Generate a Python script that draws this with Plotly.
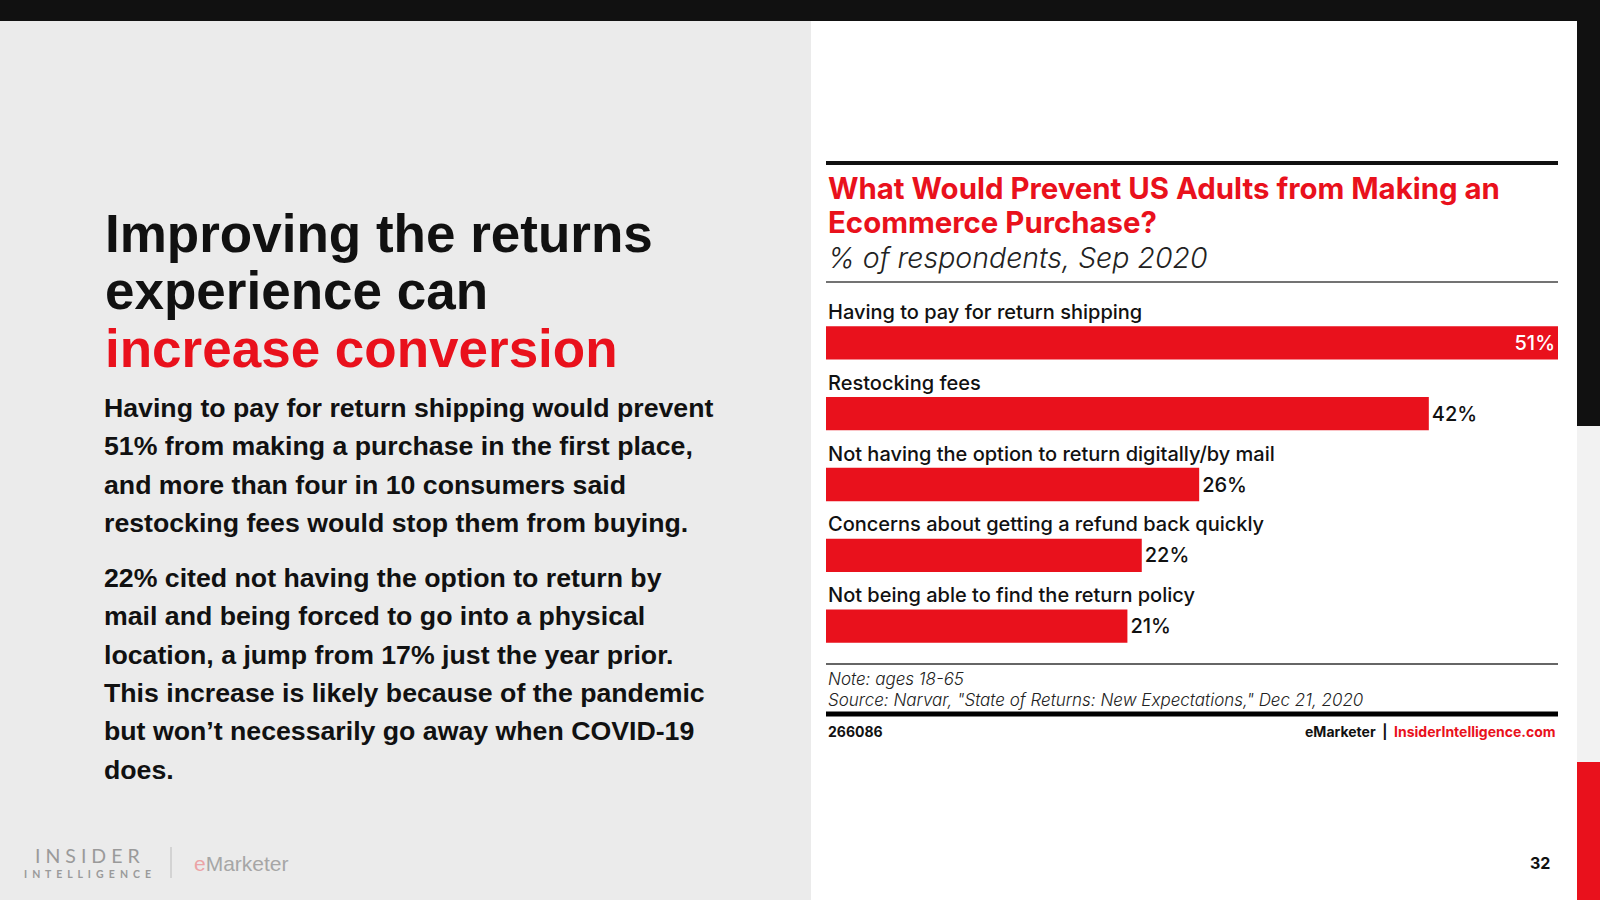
import plotly.graph_objects as go

W, H = 1600, 900

# chart data
reasons = ["Having to pay for return shipping", "Restocking fees",
           "Not having the option to return digitally/by mail",
           "Concerns about getting a refund back quickly",
           "Not being able to find the return policy"]
shares = [51, 42, 26, 22, 21]

RED = "#e9111c"
INK = "#111111"
CHART_FONT = "Inter"


def px(x):
    return x / W


def py(y):
    return 1 - y / H


def note(x, y, text, size, color=INK, family=CHART_FONT, weight="normal",
         style="normal", anchor="left"):
    return dict(x=px(x), y=py(y), xref="paper", yref="paper", text=text,
                showarrow=False, xanchor=anchor, yanchor="middle",
                font=dict(size=size, color=color, family=family, weight=weight, style=style))


fig = go.Figure()

fig.add_trace(go.Bar(
    x=shares, y=reasons, orientation="h", width=0.47,
    marker=dict(color=RED, line=dict(width=0)),
    text=[f"{v}%" for v in shares], texttemplate="%{text}",
    textposition=["inside"] + ["outside"] * (len(shares) - 1),
    insidetextanchor="end",
    textfont=dict(family=CHART_FONT, size=20, weight=500,
                  color=["white"] + [INK] * (len(shares) - 1)),
    cliponaxis=False, hoverinfo="skip",
))

# backgrounds
shapes = [
    dict(type="rect", x0=0, x1=1, y0=py(21), y1=1, fillcolor="#111111"),
    dict(type="rect", x0=px(811), x1=px(1577), y0=0, y1=py(21), fillcolor="white"),
    dict(type="rect", x0=px(1577), x1=1, y0=py(426), y1=py(21), fillcolor="#111111"),
    dict(type="rect", x0=px(1577), x1=1, y0=py(762), y1=py(426), fillcolor="#f2f2f2"),
    dict(type="rect", x0=px(1577), x1=1, y0=0, y1=py(762), fillcolor=RED),
    # chart rules
    dict(type="line", x0=px(826), x1=px(1558), y0=py(163), y1=py(163), line=dict(color=INK, width=4)),
    dict(type="line", x0=px(826), x1=px(1558), y0=py(282), y1=py(282), line=dict(color="#444444", width=1.5)),
    dict(type="line", x0=px(826), x1=px(1558), y0=py(664), y1=py(664), line=dict(color="#333333", width=1.5)),
    dict(type="line", x0=px(826), x1=px(1558), y0=py(714), y1=py(714), line=dict(color="black", width=5)),
    # logo separator
    dict(type="line", x0=px(171), x1=px(171), y0=py(847), y1=py(878), line=dict(color="#bbbbbb", width=1)),
]
for s in shapes:
    s.setdefault("line", dict(width=0))
    s["xref"] = "paper"
    s["yref"] = "paper"
    s["layer"] = "below"

anns = []

# left side headline
anns.append(note(103, 233, "Improving the returns", 53, family="Liberation Sans", weight="bold"))
anns.append(note(103, 291, "experience can", 53, family="Liberation Sans", weight="bold"))
anns.append(note(103, 348, "increase conversion", 53, color=RED, family="Liberation Sans", weight="bold"))

body1 = ["Having to pay for return shipping would prevent",
         "51% from making a purchase in the first place,",
         "and more than four in 10 consumers said",
         "restocking fees would stop them from buying."]
body2 = ["22% cited not having the option to return by",
         "mail and being forced to go into a physical",
         "location, a jump from 17% just the year prior.",
         "This increase is likely because of the pandemic",
         "but won’t necessarily go away when COVID-19",
         "does."]
for i, line in enumerate(body1):
    anns.append(note(102, 408 + i * 38.3, line, 26.7, family="Liberation Sans", weight="bold"))
for i, line in enumerate(body2):
    anns.append(note(102, 578 + i * 38.3, line, 26.7, family="Liberation Sans", weight="bold"))

# logos bottom left
anns.append(note(33, 855, "I N S I D E R", 19.5, color="#9a9a9a", family="Lato"))
anns.append(note(22, 874, "I  N  T  E  L  L  I  G  E  N  C  E", 10.5, color="#9a9a9a", family="Lato", weight="bold"))
anns.append(note(192, 863, "<span style='color:#eba3a6'>e</span>Marketer", 21,
                 color="#a6a6a6", family="Liberation Sans"))

# chart titles
anns.append(note(826, 188, "What Would Prevent US Adults from Making an", 29.4, color=RED, weight="bold"))
anns.append(note(826, 222, "Ecommerce Purchase?", 29.4, color=RED, weight="bold"))
anns.append(note(826, 258, "% of respondents, Sep 2020", 28.5, color="#222222", weight=300, style="italic"))

# category labels above bars
for r in reasons:
    anns.append(dict(x=0, y=r, xref="x", yref="y", text=r, showarrow=False,
                     xanchor="left", yanchor="middle", yshift=31,
                     font=dict(size=20, color=INK, family=CHART_FONT, weight=500)))

# footnotes
anns.append(note(826, 679, "Note: ages 18-65", 17, color="#222222", weight=300, style="italic"))
anns.append(note(826, 700, "Source: Narvar, \"State of Returns: New Expectations,\" Dec 21, 2020", 17,
                 color="#222222", weight=300, style="italic"))
anns.append(note(826, 731, "266086", 14, weight="bold"))
anns.append(note(1558, 731, "eMarketer  |  <span style='color:" + RED + "'>InsiderIntelligence.com</span>",
                 14, weight="bold", anchor="right"))
anns.append(note(1540, 863, "32", 16, weight="bold", anchor="center"))

fig.update_layout(
    width=W, height=H, margin=dict(l=0, r=0, t=0, b=0),
    paper_bgcolor="#ebebeb", plot_bgcolor="rgba(0,0,0,0)",
    showlegend=False, shapes=shapes, annotations=anns,
    xaxis=dict(domain=[px(826), px(1558)], range=[0, 51], visible=False, fixedrange=True),
    yaxis=dict(domain=[py(661.4), py(307.6)], range=[4.5, -0.5], visible=False, fixedrange=True,
               categoryorder="array", categoryarray=reasons),
)

# page body has a default 8px margin; drop it so the slide fills the window
fig.write_html("out.html", config={"displayModeBar": False},
               post_script="document.body.style.margin='0';document.body.style.overflow='hidden';")
